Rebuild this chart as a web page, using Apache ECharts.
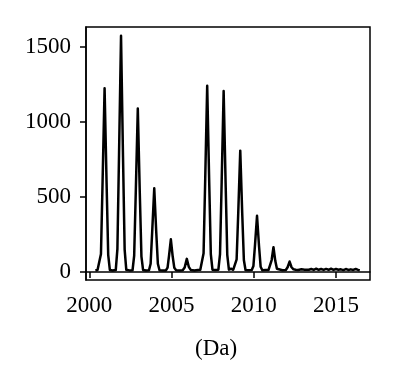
<!DOCTYPE html>
<html>
<head>
<meta charset="utf-8">
<script src="https://cdn.jsdelivr.net/npm/echarts@6/dist/echarts.min.js"></script>
<style>
  html, body { margin: 0; padding: 0; background: #fff; }
  #chart { width: 398px; height: 386px; }
</style>
</head>
<body>
<div id="chart"></div>
<script>
// mass (Da) and intensity, one row per peak
const massDa = [
  2000.37, 2000.5,
  2000.61, 2000.71, 2000.81, 2000.93, 2001.05, 2001.15, 2001.25, 2001.42,
  2001.61, 2001.71, 2001.81, 2001.93, 2002.05, 2002.15, 2002.25, 2002.44,
  2002.63, 2002.73, 2002.83, 2002.95, 2003.07, 2003.17, 2003.27, 2003.45,
  2003.63, 2003.73, 2003.83, 2003.95, 2004.07, 2004.17, 2004.27, 2004.47,
  2004.66, 2004.76, 2004.85, 2004.96, 2005.07, 2005.17, 2005.28, 2005.48,
  2005.68, 2005.8, 2005.93, 2006.05, 2006.17, 2006.4, 2006.6, 2006.75,
  2006.85, 2006.95, 2007.05, 2007.17, 2007.29, 2007.39, 2007.49, 2007.67,
  2007.85, 2007.95, 2008.05, 2008.17, 2008.29, 2008.39, 2008.49, 2008.62, 2008.75,
  2008.86, 2008.96, 2009.06, 2009.18, 2009.3, 2009.4, 2009.5, 2009.7,
  2009.88, 2009.98, 2010.08, 2010.2, 2010.32, 2010.42, 2010.52, 2010.72,
  2010.9, 2011.0, 2011.09, 2011.2, 2011.31, 2011.41, 2011.52, 2011.75,
  2011.95, 2012.06, 2012.18, 2012.3, 2012.42, 2012.55,
  2012.7, 2012.9, 2013.1, 2013.2, 2013.35, 2013.5, 2013.65, 2013.8, 2013.95,
  2014.1, 2014.25, 2014.4, 2014.55, 2014.7, 2014.85, 2015.0, 2015.15, 2015.3,
  2015.45, 2015.6, 2015.75, 2015.9, 2016.05, 2016.2, 2016.35, 2016.45
];
const intensity = [
  10, 14,
  12, 120, 610, 1225, 600, 115, 14, 10,
  13, 155, 790, 1575, 770, 150, 15, 11,
  12, 110, 545, 1090, 530, 105, 14, 10,
  12, 55, 280, 558, 270, 55, 12, 10,
  11, 30, 110, 218, 105, 28, 12, 10,
  12, 30, 88, 35, 14, 10, 14, 16,
  20, 125, 620, 1242, 610, 120, 16, 13,
  16, 120, 600, 1207, 590, 115, 16, 22, 15,
  20, 85, 400, 809, 390, 80, 14, 12,
  14, 40, 185, 375, 175, 35, 12, 13,
  14, 22, 80, 165, 75, 22, 11, 12,
  14, 32, 70, 32, 18, 15,
  14, 18, 16, 22, 15, 20, 14, 22, 15,
  20, 14, 21, 15, 22, 14, 20, 15, 18,
  13, 20, 14, 18, 14, 20, 14, 12
];
const xTicks = [2000, 2005, 2010, 2015];
const yTicks = [0, 500, 1000, 1500];

const chart = echarts.init(document.getElementById('chart'));
const font = 'Liberation Serif';

chart.setOption({
  animation: false,
  grid: {
    left: 86, right: 28, top: 27, bottom: 106,
    show: true, borderColor: '#000', borderWidth: 1.5
  },
  xAxis: {
    type: 'value',
    min: 1999.8, max: 2017.07,
    splitLine: { show: false },
    axisLine: { show: true, lineStyle: { color: '#000', width: 1.5 } },
    axisTick: { show: true, length: 6, customValues: xTicks, lineStyle: { color: '#000', width: 1.5 } },
    axisLabel: {
      customValues: xTicks, margin: 14, color: '#000',
      fontFamily: font, fontSize: 23, formatter: v => String(v)
    }
  },
  yAxis: {
    type: 'value',
    min: -53, max: 1633,
    splitLine: { show: false },
    axisLine: { show: true, lineStyle: { color: '#000', width: 1.5 } },
    axisTick: { show: true, length: 6, customValues: yTicks, lineStyle: { color: '#000', width: 1.5 } },
    axisLabel: {
      customValues: yTicks, margin: 15, color: '#000',
      fontFamily: font, fontSize: 23, formatter: v => String(v)
    }
  },
  graphic: [{
    type: 'text', left: 195, top: 337,
    style: {
      text: '(Da)', fill: '#000', font: '23px "Liberation Serif"'
    }
  }],
  series: [{
    type: 'line',
    data: massDa.map((m, i) => [m, intensity[i]]),
    showSymbol: false,
    lineStyle: { color: '#000', width: 2.5, join: 'round' },
    clip: true
  }]
});
</script>
</body>
</html>
